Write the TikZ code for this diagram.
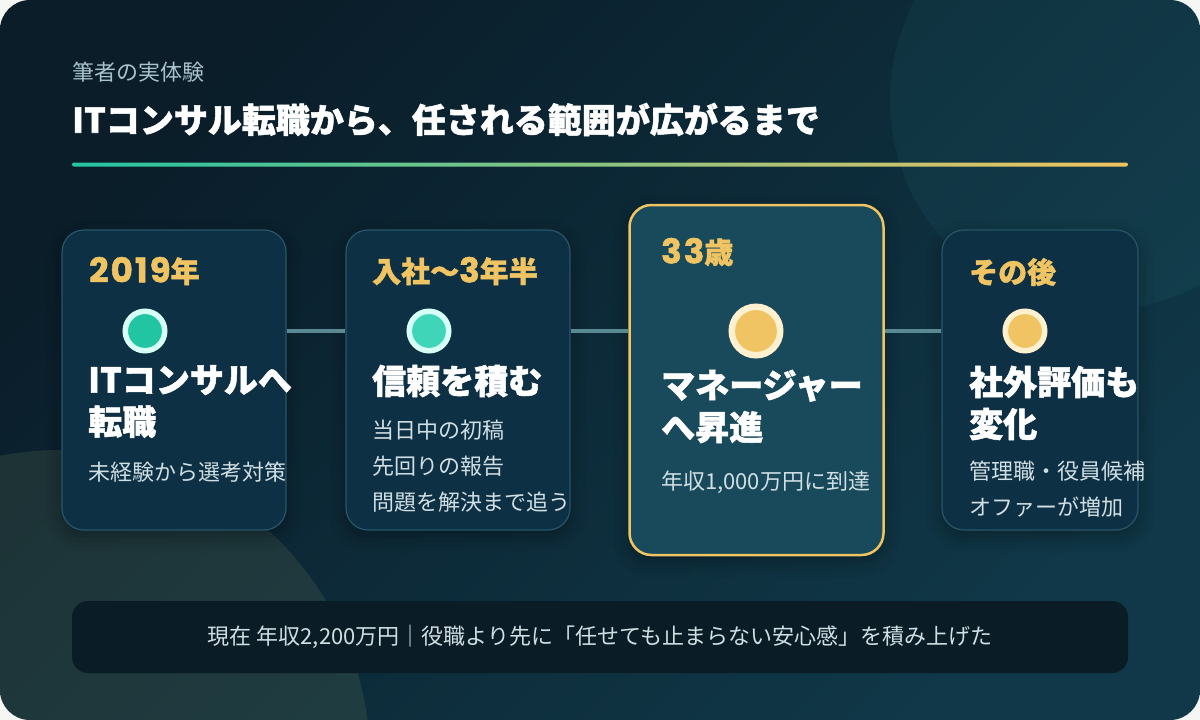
\documentclass[tikz,border=0pt]{standalone}
\usepackage{fontspec}
\setmainfont{Noto Sans CJK JP}
\newfontfamily\heavy{Noto Sans CJK JP Black}[FakeBold=1.5]
\newfontfamily\numfont{Poppins}[LetterSpace=6, FakeBold=1.5]
\usetikzlibrary{shadows.blur}
\definecolor{outside}{HTML}{F4F7F4}
\definecolor{bgA}{HTML}{0A1D29}
\definecolor{bgB}{HTML}{103848}
\definecolor{blobA}{HTML}{3AA0A8}
\definecolor{blobB}{HTML}{8A9A68}
\definecolor{cardfill}{HTML}{0E3045}
\definecolor{cardline}{HTML}{275669}
\definecolor{hifill}{HTML}{184A5B}
\definecolor{gold}{HTML}{F0C462}
\definecolor{goldring}{HTML}{FFF0D0}
\definecolor{tealA}{HTML}{22C5A2}
\definecolor{tealB}{HTML}{3FD5B8}
\definecolor{tealring}{HTML}{D6FFF5}
\definecolor{linkcol}{HTML}{5A8893}
\definecolor{subtext}{HTML}{A9C3CA}
\definecolor{bodytext}{HTML}{D0DFE3}
\definecolor{barfill}{HTML}{0A1C26}
\definecolor{lineA}{HTML}{25C4A3}
\definecolor{lineB}{HTML}{F2C35E}
\tikzset{
  card/.style={draw=cardline, line width=1.2pt, fill=cardfill, rounded corners=22pt,
    blur shadow={shadow xshift=0pt, shadow yshift=-6pt, shadow blur radius=16pt, shadow opacity=35}},
  hicard/.style={card, draw=gold, line width=2.5pt, fill=hifill},
  dot/.style={circle, fill=#1, draw=tealring, line width=5.5pt, minimum size=39.5pt, inner sep=0pt},
  link/.style={draw=linkcol, line width=4pt},
  year/.style={anchor=west, inner sep=0pt, text=gold, font=\heavy\fontsize{29}{32}\selectfont},
  head/.style={anchor=west, inner sep=0pt, text=white, align=left, font=\heavy\fontsize{34}{42}\selectfont},
  body/.style={anchor=west, inner sep=0pt, text=bodytext, align=left, font=\fontsize{22}{36}\selectfont}
}
\newcommand{\num}[1]{{\numfont\bfseries\fontsize{34}{36}\selectfont #1}}
\begin{document}
\begin{tikzpicture}[x=1pt, y=-1pt]
  \useasboundingbox (0,0) rectangle (1200,720);
  \fill[outside] (0,0) rectangle (1200,720);
  \shade[rounded corners=30pt, top color=bgA, bottom color=bgB, shading angle=45] (0,0) rectangle (1200,720);
  \begin{scope}
    \clip[rounded corners=30pt] (0,0) rectangle (1200,720);
    \fill[blobA, fill opacity=0.08] (1100,100) circle (210);
    \fill[blobB, fill opacity=0.15] (60,760) circle (310);
  \end{scope}

  \node[anchor=west, inner sep=0pt, text=subtext, font=\fontsize{22}{26}\selectfont] (sub) at (72,72) {筆者の実体験};
  \node[anchor=west, inner sep=0pt, text=white, font=\heavy\fontsize{34}{40}\selectfont] (title) at (72,119.5) {ITコンサル転職から、任される範囲が広がるまで};
  \shade[left color=lineA, right color=lineB, rounded corners=2pt] (72,162.5) rectangle (1128,166.5);

  \node[card, minimum width=224pt, minimum height=300pt] (c1) at (174,380) {};
  \node[card, minimum width=224pt, minimum height=300pt] (c2) at (458,380) {};
  \node[hicard, minimum width=254pt, minimum height=350pt] (c3) at (756.5,380) {};
  \node[card, minimum width=196pt, minimum height=300pt] (c4) at (1040,380) {};

  \node[dot=tealA] (d1) at (145,331) {};
  \node[dot=tealB] (d2) at (429,331) {};
  \node[dot=gold, draw=goldring, line width=6.5pt, minimum size=48.5pt] (d3) at (756,331) {};
  \node[dot=gold, draw=goldring] (d4) at (1025,331) {};

  \draw[link] (c1.east |- d1) -- (c2.west |- d2);
  \draw[link] (c2.east |- d2) -- (c3.west |- d3);
  \draw[link] (c3.east |- d3) -- (c4.west |- d4);

  \node[year] (y1) at (89,271) {\num{2019}年};
  \node[head] (h1) at (88,401.5) {ITコンサルへ\\転職};
  \node[body] (b1) at (88,472) {未経験から選考対策};

  \node[year] (y2) at (372,271) {入社〜\num{3}年半};
  \node[head] (h2) at (372,381) {信頼を積む};
  \node[body] (b2) at (372,466) {当日中の初稿\\先回りの報告\\問題を解決まで追う};

  \node[year] (y3) at (661,252) {\num{33}歳};
  \node[head] (h3) at (661,406.5) {マネージャー\\へ昇進};
  \node[body] (b3) at (661,482) {年収1,000万円に到達};

  \node[year] (y4) at (969,272) {その後};
  \node[head] (h4) at (969,403) {社外評価も\\変化};
  \node[body] (b4) at (969,489) {管理職・役員候補\\オファーが増加};

  \node[fill=barfill, rounded corners=16pt, minimum width=1056pt, minimum height=72pt,
    text=bodytext, font=\fontsize{22}{26}\selectfont] (bar) at (600,637)
    {現在 年収2,200万円｜役職より先に「任せても止まらない安心感」を積み上げた};
\end{tikzpicture}
\end{document}
